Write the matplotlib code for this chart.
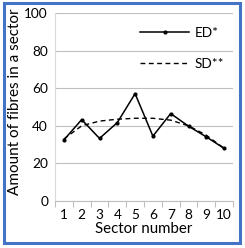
import numpy as np
import matplotlib.pyplot as plt
from matplotlib.patches import Rectangle

plt.rcParams['font.family'] = ['Lato', 'DejaVu Sans']

sectors = [1, 2, 3, 4, 5, 6, 7, 8, 9, 10]
ed = [32.5, 43.3, 33.3, 41.7, 57.1, 34.5, 46.5, 39.8, 34.1, 28.0]
sd = [33.0, 40.0, 42.5, 43.5, 44.0, 44.0, 43.0, 40.0, 35.0, 28.0]

fig = plt.figure(figsize=(2.45, 2.48), dpi=100)
ax = fig.add_axes([55/245, 1-201/248, (233-55)/245, (201-13)/248])

ax.plot(sectors, ed, color='black', lw=1.1, marker='o', ms=2.0, label='ED*')
ax.plot(sectors, sd, color='black', lw=1.0, ls=(0, (3.5, 2.5)), label='SD**')

ax.set_xlim(0.5, 10.5)
ax.set_ylim(0, 100)
ax.set_yticks([0, 20, 40, 60, 80, 100])
ax.set_xticks(sectors)
ax.set_xticks(np.arange(0.5, 11, 1), minor=True)
ax.tick_params(axis='x', which='major', length=0, labelsize=9.8, pad=6)
ax.tick_params(axis='x', which='minor', length=4, color='#bfbfbf', width=0.8)
ax.tick_params(axis='y', length=0, labelsize=9.8, pad=5)
ax.grid(axis='y', color='#bfbfbf', lw=0.8)
ax.set_axisbelow(True)
for s in ['top', 'right']:
    ax.spines[s].set_visible(False)
ax.spines['left'].set_color('#d9d9d9')
ax.spines['bottom'].set_color('#bfbfbf')
ax.spines['left'].set_linewidth(0.8)
ax.spines['bottom'].set_linewidth(0.8)

ax.set_xlabel('Sector number', fontsize=10.8, labelpad=0.5)
fig.text(15/245, 1-195/248, 'Amount of fibres in a sector', rotation=90,
         ha='center', va='bottom', fontsize=11)

leg = ax.legend(loc='upper right', bbox_to_anchor=(1.02, 0.99), frameon=False,
                fontsize=9.8, handlelength=3.6, labelspacing=1.4, handletextpad=0.4)

fig.patches.append(Rectangle((3.5/245, 1-242.5/248), 236/245, 239.5/248,
                             transform=fig.transFigure, fill=False,
                             edgecolor='#4472c4', lw=2.2))

fig.savefig('out.png', dpi=100)
